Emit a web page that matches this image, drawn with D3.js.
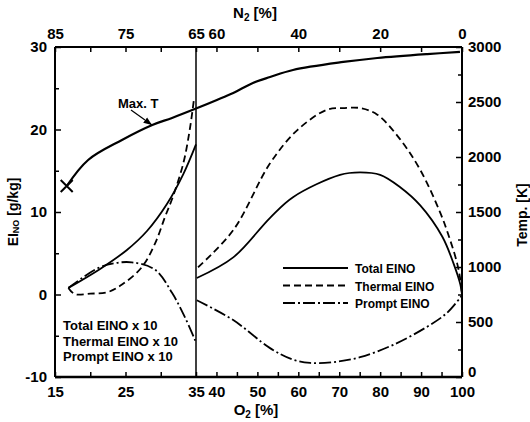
<!DOCTYPE html>
<html>
<head>
<meta charset="utf-8">
<script src="https://cdn.jsdelivr.net/npm/d3@7"></script>
<style>
  body { margin: 0; background: #fff; }
  svg text { font-family: "Liberation Sans", Arial, sans-serif; font-weight: bold; fill: #000; }
</style>
</head>
<body>
<div class="chart"></div>
<script>
// O2 [%] on x; left section (15-35) values are EINO x 10
const totalLeft = [[16.9, 0.8], [21.4, 3.1], [25.2, 5.4], [28.05, 7.7], [30.9, 11.0], [33.2, 14.6], [35, 18.2]];
const thermalLeft = [[16.9, 0.8], [17.8, 0.05], [20, 0.1], [22.5, 0.3], [24.5, 1.2], [27.3, 3.3], [29.2, 6.2],
    [30.6, 9.4], [31.7, 11.8], [33.2, 15.9], [34.1, 19.9], [34.7, 23.6]];
const promptLeft = [[16.9, 0.8], [21.1, 3.2], [23.5, 3.8], [25.9, 3.9], [29.2, 3.0], [31.6, 0.2], [33.4, -2.7], [34.9, -5.6]];

const totalRight = [[35.2, 2.0], [44.1, 4.5], [53.1, 9.3], [58.7, 11.8], [70.2, 14.5], [75.1, 14.8], [80, 14.5],
    [84.9, 13.0], [89.8, 10.8], [95.2, 7.0], [97.9, 3.8], [99.6, 1.2], [100, 0]];
const thermalRight = [[35.5, 3.3], [44.1, 7.8], [53.1, 15.9], [59.7, 19.9], [67.0, 22.4], [71, 22.6], [75.1, 22.6],
    [79.3, 21.8], [84.9, 18.8], [89.8, 15.1], [94.7, 9.9], [97.1, 6.6], [98.8, 3.8], [99.6, 1.8], [100, 0]];
const promptRight = [[35.2, -0.7], [44.1, -3.1], [53.1, -6.5], [58.7, -7.9], [62.9, -8.3], [68.5, -8.2], [75.1, -7.6],
    [83.2, -6.1], [91.5, -3.9], [96.4, -2.2], [100, -0.1]];

// max flame temperature [K]
const maxTemp = [[16.66, 1736], [19.7, 1973], [24.5, 2155], [28.8, 2291], [31.6, 2355], [35, 2440],
    [40.1, 2518], [44.1, 2582], [48.9, 2673], [53.1, 2727], [58.7, 2791], [71, 2864], [79.3, 2900], [91.5, 2936], [99.5, 2955]];
const extinction = [16.66, 1736];

const bottomTicks = [15, 20, 25, 30, 35, 40, 45, 50, 55, 60, 65, 70, 75, 80, 85, 90, 95, 100];
const bottomLabels = [15, 25, 35, 40, 50, 60, 70, 80, 90, 100];
const topTicks = [85, 80, 75, 70, 65, 60, 50, 40, 30, 20, 10, 0];
const topLabels = [85, 75, 65, 60, 40, 20, 0];
const einoTicks = [-10, -5, 0, 5, 10, 15, 20, 25, 30];
const tempTicks = d3.range(0, 3001, 250);

const legendNames = ["Total EINO", "Thermal EINO", "Prompt EINO"];
const noteLines = ["Total EINO x 10", "Thermal EINO x 10", "Prompt EINO x 10"];

const W = 530, H = 422;
const L = 55, R = 462, T = 47, B = 377, brk = 196;

const svg = d3.select('.chart').append('svg').attr('width', W).attr('height', H);

// broken x axis: 15-35 on the left, 35-100 on the right
const x = d3.scaleLinear().domain([15, 35, 100]).range([L, brk, R]);
const xTop = d3.scaleLinear().domain([85, 65, 0]).range([L, brk, R]);
const yE = d3.scaleLinear().domain([-10, 30]).range([B, T]);
const yT = d3.scaleLinear().domain([0, 3000]).range([B, T]);

const dashes = { solid: null, thermal: "7,4", prompt: "12,3,2,3" };

function axisStyle(g) {
    g.select('.domain').remove();
    g.selectAll('.tick line').attr('stroke', '#000').attr('stroke-width', 1.5);
    g.selectAll('.tick text').attr('font-size', 15).style('font-family', '"Liberation Sans", Arial, sans-serif')
        .style('font-weight', 'bold');
}

svg.append('g').attr('transform', `translate(0,${B})`)
    .call(d3.axisBottom(x).tickValues(bottomTicks).tickSize(-5).tickPadding(9)
        .tickFormat(d => bottomLabels.includes(d) ? d : ''))
    .call(axisStyle);

svg.append('g').attr('transform', `translate(0,${T})`)
    .call(d3.axisTop(xTop).tickValues(topTicks).tickSize(-5).tickPadding(8)
        .tickFormat(d => topLabels.includes(d) ? d : ''))
    .call(axisStyle);

svg.append('g').attr('transform', `translate(${L},0)`)
    .call(d3.axisLeft(yE).tickValues(einoTicks).tickSize(-6).tickPadding(8)
        .tickFormat(d => d % 10 === 0 ? d : ''))
    .call(axisStyle)
    .call(g => g.selectAll('.tick').filter(d => d % 10 !== 0).select('line').attr('x2', 4));

svg.append('g').attr('transform', `translate(${R},0)`)
    .call(d3.axisRight(yT).tickValues(tempTicks).tickSize(-6).tickPadding(6)
        .tickFormat(d => d % 500 === 0 ? d : ''))
    .call(axisStyle)
    .call(g => g.selectAll('.tick').filter(d => d % 500 !== 0).select('line').attr('x2', -4))
    .call(g => g.selectAll('.tick').filter(d => d === 0).select('text').attr('dy', '-0.05em'));

// frame and break line
const frame = svg.append('g').attr('stroke', '#000').attr('fill', 'none');
frame.append('line').attr('x1', L).attr('x2', R).attr('y1', B).attr('y2', B).attr('stroke-width', 2.5);
frame.append('line').attr('x1', L).attr('x2', R).attr('y1', T).attr('y2', T).attr('stroke-width', 2);
frame.append('line').attr('x1', L).attr('x2', L).attr('y1', T).attr('y2', B).attr('stroke-width', 2);
frame.append('line').attr('x1', R).attr('x2', R).attr('y1', T).attr('y2', B).attr('stroke-width', 2);
frame.append('line').attr('x1', brk).attr('x2', brk).attr('y1', T).attr('y2', B).attr('stroke-width', 1.5);

const lineE = d3.line().x(d => x(d[0])).y(d => yE(d[1])).curve(d3.curveCatmullRom.alpha(0.5));
const lineT = d3.line().x(d => x(d[0])).y(d => yT(d[1])).curve(d3.curveCatmullRom.alpha(0.5));

const series = [
    { data: totalLeft, dash: dashes.solid },
    { data: thermalLeft, dash: dashes.thermal },
    { data: promptLeft, dash: dashes.prompt },
    { data: totalRight, dash: dashes.solid },
    { data: thermalRight, dash: dashes.thermal },
    { data: promptRight, dash: dashes.prompt },
];

svg.append('g').selectAll('path')
    .data(series)
    .enter()
    .append('path')
    .attr('d', d => lineE(d.data))
    .attr('fill', 'none')
    .attr('stroke', '#000')
    .attr('stroke-width', 1.8)
    .attr('stroke-dasharray', d => d.dash);

svg.append('path')
    .attr('d', lineT(maxTemp))
    .attr('fill', 'none')
    .attr('stroke', '#000')
    .attr('stroke-width', 2.2);

// extinction cross
const cx = x(extinction[0]), cy = yT(extinction[1]);
svg.append('path')
    .attr('d', `M${cx - 6},${cy - 6}L${cx + 6},${cy + 6}M${cx - 6},${cy + 6}L${cx + 6},${cy - 6}`)
    .attr('stroke', '#000').attr('stroke-width', 2);

// Max. T label with arrow
svg.append('defs').append('marker')
    .attr('id', 'arrow').attr('viewBox', '0 0 10 10').attr('refX', 10).attr('refY', 5)
    .attr('markerWidth', 7).attr('markerHeight', 7).attr('orient', 'auto')
    .append('path').attr('d', 'M0,1L10,5L0,9Z').attr('fill', '#000');
svg.append('text').attr('x', 118).attr('y', 108).attr('font-size', 13).text('Max. T');
svg.append('line').attr('x1', 131).attr('y1', 110).attr('x2', 152).attr('y2', 125)
    .attr('stroke', '#000').attr('stroke-width', 1.2).attr('marker-end', 'url(#arrow)');

// legend
const legend = svg.append('g');
[dashes.solid, dashes.thermal, dashes.prompt].forEach((dash, i) => {
    const ly = 268 + i * 17.5;
    legend.append('line').attr('x1', 283).attr('x2', 348).attr('y1', ly).attr('y2', ly)
        .attr('stroke', '#000').attr('stroke-width', 1.8).attr('stroke-dasharray', dash);
    legend.append('text').attr('x', 355).attr('y', ly + 5).attr('font-size', 12).text(legendNames[i]);
});

// note for left section
svg.append('g').selectAll('text')
    .data(noteLines)
    .enter()
    .append('text')
    .attr('x', 63)
    .attr('y', (d, i) => 330 + i * 15.5)
    .attr('font-size', 13)
    .text(d => d);

// axis titles
const topTitle = svg.append('text').attr('x', 255).attr('y', 18).attr('text-anchor', 'middle').attr('font-size', 15);
topTitle.append('tspan').text('N');
topTitle.append('tspan').attr('font-size', 10).attr('dy', 3).text('2');
topTitle.append('tspan').attr('dy', -3).text(' [%]');

const botTitle = svg.append('text').attr('x', 256).attr('y', 415).attr('text-anchor', 'middle').attr('font-size', 15);
botTitle.append('tspan').text('O');
botTitle.append('tspan').attr('font-size', 10).attr('dy', 3).text('2');
botTitle.append('tspan').attr('dy', -3).text(' [%]');

const yTitle = svg.append('text').attr('transform', 'translate(18,212) rotate(-90)')
    .attr('text-anchor', 'middle').attr('font-size', 14);
yTitle.append('tspan').text('EI');
yTitle.append('tspan').attr('font-size', 9).attr('dy', 1).text('NO');
yTitle.append('tspan').attr('dy', -1).text(' [g/kg]');

svg.append('text').attr('transform', 'translate(527,215) rotate(-90)')
    .attr('text-anchor', 'middle').attr('font-size', 14).text('Temp. [K]');
</script>
</body>
</html>
